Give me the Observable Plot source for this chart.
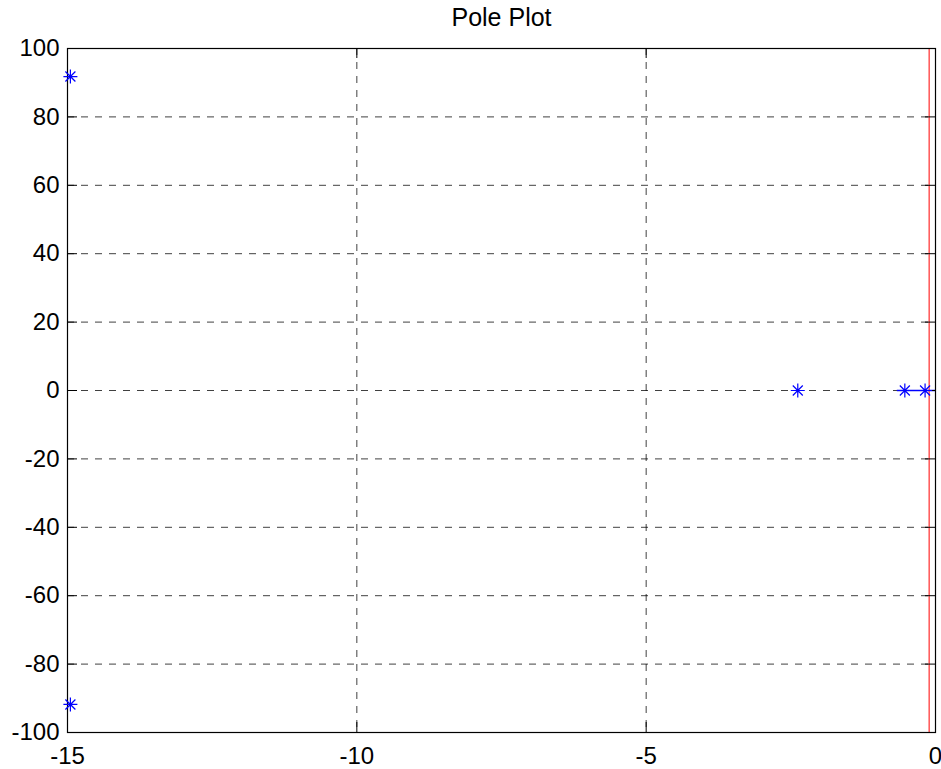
<!DOCTYPE html>
<html>
<head>
<meta charset="utf-8">
<script src="https://cdn.jsdelivr.net/npm/d3@7"></script>
<script src="https://cdn.jsdelivr.net/npm/@observablehq/plot@0.6"></script>
<style>
  html, body { margin: 0; padding: 0; background: #fff; }
  #chart svg { display: block; }
</style>
</head>
<body>
<div id="chart"></div>
<script>
// Poles of the system: real and imaginary parts
const poleReal = [-14.95, -14.95, -2.38, -0.53, -0.18];
const poleImag = [91.8, -91.8, 0, 0, 0];

// Tick values
const xTicks = [-15, -10, -5, 0];
const yTicks = [-100, -80, -60, -40, -20, 0, 20, 40, 60, 80, 100];

// Reference line near the imaginary axis and the short trace along the real axis
const refLineX = [-0.11];
const realTrace = [{x1: -0.66, x2: 0, y: 0}];

const title = "Pole Plot";

const poles = poleReal.map((re, i) => ({re, im: poleImag[i]}));

const W = 941, H = 769;
const mt = 48, mb = 37, ml = 67, mr = 6;
const innerW = W - ml - mr, innerH = H - mt - mb;
const tickLen = 10;

// MATLAB-style '*' marker: a plus overlaid with a cross
const star = {
  draw(ctx) {
    const a = 7, b = 5;
    ctx.moveTo(-a, 0); ctx.lineTo(a, 0);
    ctx.moveTo(0, -a); ctx.lineTo(0, a);
    ctx.moveTo(-b, -b); ctx.lineTo(b, b);
    ctx.moveTo(-b, b); ctx.lineTo(b, -b);
  }
};

const font = "Liberation Sans, Arial, Helvetica, sans-serif";
const dash = "7,7";
const fmt = d => d < 0 ? "-" + Math.abs(d) : String(d);

const chart = Plot.plot({
  width: W,
  height: H,
  marginTop: mt,
  marginBottom: mb,
  marginLeft: ml,
  marginRight: mr,
  style: {fontFamily: font, fontSize: "24px", background: "#fff", color: "#000", overflow: "visible"},
  x: {domain: [-15, 0], ticks: xTicks, label: null},
  y: {domain: [-100, 100], ticks: yTicks, label: null},
  marks: [
    Plot.gridX(xTicks, {stroke: "#000", strokeOpacity: 0.75, strokeDasharray: dash}),
    Plot.gridY(yTicks, {stroke: "#000", strokeOpacity: 0.75, strokeDasharray: dash}),
    Plot.ruleX(refLineX, {x: d => d, stroke: "#ff0000", strokeWidth: 1}),
    Plot.ruleY(realTrace, {x1: "x1", x2: "x2", y: "y", stroke: "#0000ff", strokeWidth: 1.5}),
    Plot.frame({stroke: "#000", strokeWidth: 1.2}),
    // inward ticks on all four sides
    Plot.tickX(xTicks, {x: d => d, insetTop: innerH - tickLen, stroke: "#000"}),
    Plot.tickX(xTicks, {x: d => d, insetBottom: innerH - tickLen, stroke: "#000"}),
    Plot.tickY(yTicks, {y: d => d, insetRight: innerW - tickLen, stroke: "#000"}),
    Plot.tickY(yTicks, {y: d => d, insetLeft: innerW - tickLen, stroke: "#000"}),
    Plot.axisX(xTicks, {tickSize: 0, tickPadding: 14, fontSize: 24, tickFormat: fmt}),
    Plot.axisY(yTicks, {tickSize: 0, tickPadding: 8, fontSize: 24, tickFormat: fmt}),
    Plot.dot(poles, {x: "re", y: "im", symbol: star, r: 7, fill: "none", stroke: "#0000ff", strokeWidth: 1.2}),
    Plot.text([title], {frameAnchor: "top", lineAnchor: "bottom", dy: -23, fontSize: 25, fill: "#000"})
  ]
});

document.getElementById("chart").appendChild(chart);
</script>
</body>
</html>
